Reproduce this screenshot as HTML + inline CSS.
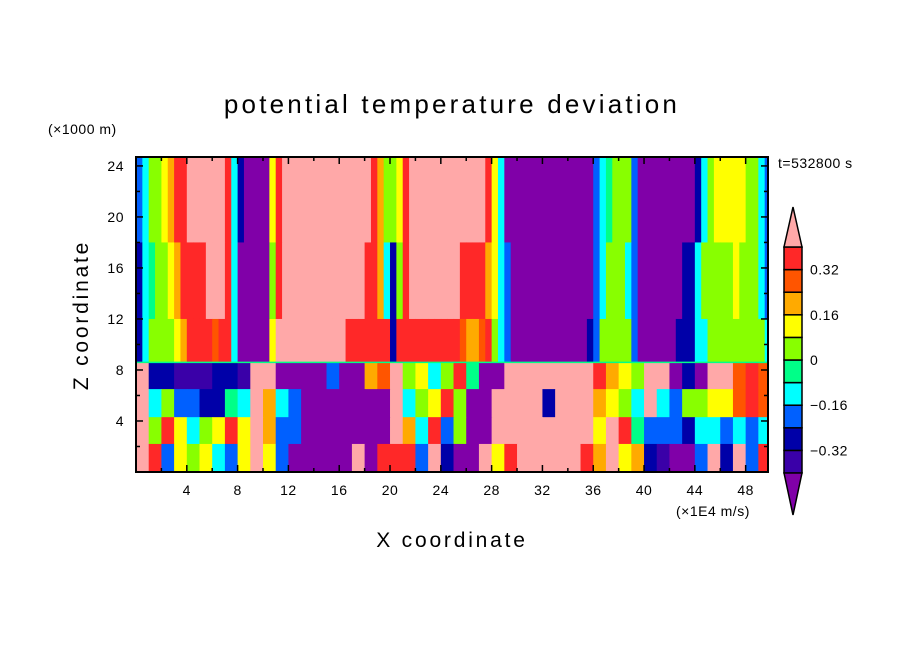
<!DOCTYPE html>
<html><head><meta charset="utf-8"><style>
body{margin:0;background:#fff;}
svg{display:block;font-family:"Liberation Sans",sans-serif;}
</style></head><body>
<svg id="chart" width="904" height="654" viewBox="0 0 904 654" xmlns="http://www.w3.org/2000/svg">
<text x="452" y="113" text-anchor="middle" font-size="26" letter-spacing="3.2">potential temperature deviation</text>
<text x="48" y="134" font-size="14" letter-spacing="0.5">(×1000 m)</text>
<text x="778" y="168" font-size="14" letter-spacing="0.5">t=532800 s</text>
<text x="88" y="315" font-size="21" letter-spacing="2.8" text-anchor="middle" transform="rotate(-90 88 315)">Z coordinate</text>
<text x="452" y="547" font-size="21" letter-spacing="2.8" text-anchor="middle">X coordinate</text>
<text x="676" y="516" font-size="14" letter-spacing="0.5">(×1E4 m/s)</text>
<g id="cells"></g>
<g id="axes"></g>
<g id="cbar"></g>
</svg>
<script>
// Contour levels and colours
const levels = [-0.40,-0.32,-0.24,-0.16,-0.08,0,0.08,0.16,0.24,0.32,0.40];
const colors = ["#8000a8","#3a00a8","#0000a8","#0060ff","#00ffff","#00ff88","#88ff00","#ffff00","#ffaa00","#ff5500","#ff2828","#ffa8a8"];
const cbarLabels = ["0.32","0.16","0","-0.16","-0.32"];
const cbarLabelValues = [0.32,0.16,0,-0.16,-0.32];
const xTicks = [4,8,12,16,20,24,28,32,36,40,44,48];
const yTicks = [4,8,12,16,20,24];
// Upper layer (0.5-unit columns), z bands
const upperBands = [[18,24.7],[12,18],[8.6,12]];
const upperTop = [-0.2,-0.12,0.04,0.04,0.12,0.2,0.36,0.36,0.5,0.5,0.5,0.5,0.5,0.5,0.36,-0.12,-0.28,-0.5,-0.5,-0.5,-0.5,0.12,0.36,0.5,0.5,0.5,0.5,0.5,0.5,0.5,0.5,0.5,0.5,0.5,0.5,0.5,0.5,0.36,0.2,0.04,0.04,0.12,0.36,0.5,0.5,0.5,0.5,0.5,0.5,0.5,0.5,0.5,0.5,0.5,0.5,0.36,0.12,-0.12,-0.5,-0.5,-0.5,-0.5,-0.5,-0.5,-0.5,-0.5,-0.5,-0.5,-0.5,-0.5,-0.5,-0.5,-0.2,-0.12,-0.04,0.04,0.04,0.04,-0.2,-0.5,-0.5,-0.5,-0.5,-0.5,-0.5,-0.5,-0.5,-0.5,-0.28,-0.12,0.04,0.12,0.12,0.12,0.12,0.12,0.04,0.04,-0.12,-0.2];
const upperMid = [-0.28,-0.12,-0.04,0.04,0.04,0.12,0.2,0.36,0.36,0.36,0.36,0.5,0.5,0.5,0.36,-0.12,-0.5,-0.5,-0.5,-0.5,-0.5,0.04,0.36,0.5,0.5,0.5,0.5,0.5,0.5,0.5,0.5,0.5,0.5,0.5,0.5,0.5,0.36,0.36,0.2,-0.12,-0.28,0.04,0.36,0.5,0.5,0.5,0.5,0.5,0.5,0.5,0.5,0.36,0.36,0.36,0.36,0.2,0.12,-0.12,-0.2,-0.5,-0.5,-0.5,-0.5,-0.5,-0.5,-0.5,-0.5,-0.5,-0.5,-0.5,-0.5,-0.5,-0.2,-0.12,0.04,0.04,0.04,-0.12,-0.2,-0.5,-0.5,-0.5,-0.5,-0.5,-0.5,-0.5,-0.28,-0.28,-0.12,0.04,0.04,0.04,0.04,0.04,0.12,0.04,0.04,0.04,-0.12,-0.2];
const upperLow = [-0.28,-0.12,0.04,0.04,0.04,0.04,0.12,0.2,0.36,0.36,0.36,0.36,0.28,0.36,0.36,-0.12,-0.5,-0.5,-0.5,-0.5,-0.5,0.12,0.5,0.5,0.5,0.5,0.5,0.5,0.5,0.5,0.5,0.5,0.5,0.36,0.36,0.36,0.36,0.36,0.36,0.36,-0.28,0.36,0.36,0.36,0.36,0.36,0.36,0.36,0.36,0.36,0.36,0.28,0.2,0.2,0.28,0.36,0.04,-0.12,-0.2,-0.5,-0.5,-0.5,-0.5,-0.5,-0.5,-0.5,-0.5,-0.5,-0.5,-0.5,-0.5,-0.28,-0.2,0.04,0.04,0.04,0.04,0.04,-0.2,-0.5,-0.5,-0.5,-0.5,-0.5,-0.5,-0.28,-0.28,-0.28,-0.12,-0.12,0.04,0.04,0.04,0.04,0.04,0.04,0.04,0.04,0.04,-0.12];
// Lower layer (1-unit columns), z bands
const lowerBands = [[6.5,8.6],[4.3,6.5],[2.2,4.3],[0,2.2]];
const lowerA = [0.5,-0.28,-0.28,-0.36,-0.36,-0.36,-0.28,-0.28,-0.36,0.5,0.5,-0.5,-0.5,-0.5,-0.5,-0.2,-0.5,-0.5,0.2,0.28,0.5,0.04,0.12,-0.12,0.04,0.36,-0.04,-0.5,-0.5,0.5,0.5,0.5,0.5,0.5,0.5,0.5,0.36,0.2,0.12,0.04,0.5,0.5,-0.5,-0.28,-0.5,0.5,0.5,0.28,0.36,0.28];
const lowerB = [0.5,-0.12,0.04,-0.2,-0.2,-0.28,-0.28,-0.04,-0.12,0.5,0.2,-0.12,-0.2,-0.5,-0.5,-0.5,-0.5,-0.5,-0.5,-0.5,0.5,-0.12,0.04,0.12,0.36,0.04,-0.5,-0.5,0.5,0.5,0.5,0.5,-0.28,0.5,0.5,0.5,0.2,0.12,0.04,-0.12,0.5,-0.12,-0.2,0.04,0.04,0.12,0.12,0.28,0.36,0.28];
const lowerC = [0.5,0.04,0.36,0.12,-0.12,0.04,0.12,0.36,0.12,0.5,0.2,-0.2,-0.2,-0.5,-0.5,-0.5,-0.5,-0.5,-0.5,-0.5,0.5,0.2,-0.12,0.36,-0.2,0.04,-0.5,-0.5,0.5,0.5,0.5,0.5,0.5,0.5,0.5,0.5,0.12,0.5,0.36,-0.04,-0.2,-0.2,-0.2,-0.28,-0.12,-0.12,-0.2,-0.12,-0.2,-0.12];
const lowerD = [0.5,0.36,-0.2,0.12,0.04,0.12,-0.12,-0.2,0.12,0.5,0.12,-0.2,-0.5,-0.5,-0.5,-0.5,-0.5,0.5,-0.5,0.36,0.36,0.36,-0.2,0.5,-0.28,-0.5,-0.5,0.5,0.12,0.36,0.5,0.5,0.5,0.5,0.5,0.36,0.2,0.5,0.12,0.2,-0.28,-0.36,-0.5,-0.5,-0.2,0.5,-0.28,0.5,-0.2,0.36];

const X0=136, X1=768, XMAX=49.76, Y0=472, Y1=157, ZMAX=24.7;
const sx = v => X0 + v*(X1-X0)/XMAX;
const sy = v => Y0 - v*(Y0-Y1)/ZMAX;
function colorOf(v){let i=0;while(i<levels.length && v>=levels[i]) i++;return colors[i];}
const NS="http://www.w3.org/2000/svg";
function mk(tag,attrs,parent){const e=document.createElementNS(NS,tag);for(const k in attrs)e.setAttribute(k,attrs[k]);parent.appendChild(e);return e;}
const cells=document.getElementById('cells');
function drawRow(vals,band,w,name){
  vals.forEach((v,i)=>{
    const xa=sx(i*w), xb=sx(Math.min((i+1)*w,XMAX));
    if(xb<=xa) return;
    const r=mk('rect',{x:xa,y:sy(band[1]),width:xb-xa+0.6,height:sy(band[0])-sy(band[1])+0.6,fill:colorOf(v)},cells);
    
    
  });
}
drawRow(upperTop,upperBands[0],0.5,'upper-cell');
drawRow(upperMid,upperBands[1],0.5,'upper-cell');
drawRow(upperLow,upperBands[2],0.5,'upper-cell');
drawRow(lowerA,lowerBands[0],1,'lower-cell');
drawRow(lowerB,lowerBands[1],1,'lower-cell');
drawRow(lowerC,lowerBands[2],1,'lower-cell');
drawRow(lowerD,lowerBands[3],1,'lower-cell');
const iface=mk('line',{x1:X0,x2:X1,y1:sy(8.6),y2:sy(8.6),stroke:"#00ff88","stroke-width":1.5},cells);



const axes=document.getElementById('axes');
const frame=mk('rect',{x:X0,y:Y1,width:X1-X0,height:Y0-Y1,fill:"none",stroke:"#000","stroke-width":2},axes);


for(let v=2;v<XMAX;v+=2){
  const major=v%4===0, L=major?7:4;
  mk('line',{x1:sx(v),x2:sx(v),y1:Y0,y2:Y0-L,stroke:"#000","stroke-width":1.5},axes);
  mk('line',{x1:sx(v),x2:sx(v),y1:Y1,y2:Y1+L,stroke:"#000","stroke-width":1.5},axes);
}
for(let v=2;v<ZMAX;v+=2){
  const major=v%4===0, L=major?7:4;
  mk('line',{x1:X0,x2:X0+L,y1:sy(v),y2:sy(v),stroke:"#000","stroke-width":1.5},axes);
  mk('line',{x1:X1,x2:X1-L,y1:sy(v),y2:sy(v),stroke:"#000","stroke-width":1.5},axes);
}
xTicks.forEach(v=>{
  const t=mk('text',{x:sx(v),y:Y0+23,"font-size":14,"text-anchor":"middle","letter-spacing":0.5},axes);t.textContent=v;
  
  
});
yTicks.forEach(v=>{
  const t=mk('text',{x:X0-12,y:sy(v)+5,"font-size":14,"text-anchor":"end","letter-spacing":0.5},axes);t.textContent=v;
  
  
});

// colorbar
const cb=document.getElementById('cbar');
const CX0=784, CX1=802, CT=247, CB=473, nb=levels.length-1, bh=(CB-CT)/nb;
const cy = v => CB - (v-levels[0])/(levels[nb]-levels[0])*(CB-CT);
for(let i=0;i<nb;i++){
  const r=mk('rect',{x:CX0,y:cy(levels[i+1]),width:CX1-CX0,height:bh,fill:colors[i+1],stroke:"#000","stroke-width":1.5},cb);
  
  
}
const tt=mk('polygon',{points:`${CX0},${CT} ${CX1},${CT} ${(CX0+CX1)/2},207`,fill:colors[colors.length-1],stroke:"#000","stroke-width":1.5},cb);


const bt=mk('polygon',{points:`${CX0},${CB} ${CX1},${CB} ${(CX0+CX1)/2},515`,fill:colors[0],stroke:"#000","stroke-width":1.5},cb);


cbarLabels.forEach((s,i)=>{
  const t=mk('text',{x:810,y:cy(cbarLabelValues[i])+5,"font-size":14,"letter-spacing":0.5},cb);t.textContent=s.replace('-','\u2212');
  
  
});
</script>
</body></html>
